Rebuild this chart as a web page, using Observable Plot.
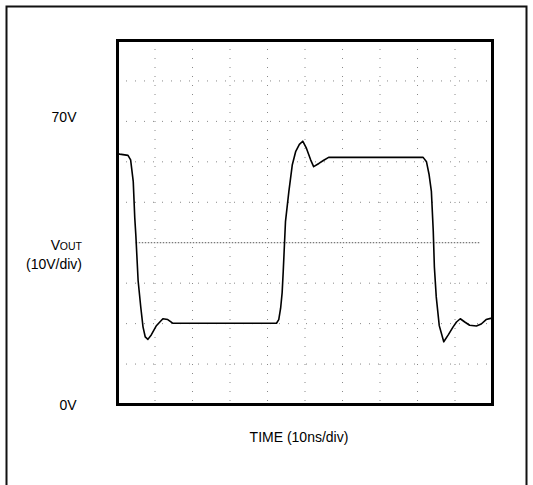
<!DOCTYPE html>
<html>
<head>
<meta charset="utf-8">
<script src="https://cdn.jsdelivr.net/npm/d3@7"></script>
<script src="https://cdn.jsdelivr.net/npm/@observablehq/plot@0.6"></script>
<style>
  html, body { margin: 0; padding: 0; background: #fff; }
  #chart svg { display: block; }
</style>
</head>
<body>
<div id="chart"></div>
<script>
// Time axis (ns) and output voltage (V)
const timeNs = [0, 0.6, 2.8, 3.5, 4.2, 4.6, 4.9, 5.5, 6.2, 6.8, 7.4, 8.1, 9.0, 10.3, 12.1, 13.4, 14.7,
  42.4, 43.0, 43.5, 43.9, 44.2, 44.8, 45.7, 46.6, 47.5, 48.5, 49.4, 50.4, 51.5, 52.3, 53.7, 55.0, 56.3,
  81.5, 82.4, 83.1, 83.7, 84.2, 84.5, 85.0, 85.8, 87.0, 88.2, 89.5, 90.4, 91.4, 92.6, 93.9, 95.7, 97.0, 98.3, 99.5];
const vout = [62.0, 61.9, 61.6, 60.5, 55.1, 46.2, 41.7, 30.6, 24.1, 19.2, 16.7, 16.1, 17.2, 19.4, 21.2, 21.0, 20.1,
  20.1, 21.0, 23.8, 27.6, 33.0, 45.3, 52.7, 59.2, 62.5, 64.3, 65.1, 63.3, 60.5, 58.8, 59.6, 60.4, 61.1,
  61.1, 60.0, 56.8, 52.7, 42.9, 34.0, 26.6, 19.5, 15.5, 17.2, 19.2, 20.4, 21.2, 20.4, 19.6, 19.4, 19.9, 21.0, 21.3];

// Scope divisions
const xDivs = [10, 20, 30, 40, 50, 60, 70, 80, 90];
const yDivs = [10, 20, 30, 50, 60, 70, 80];
const yCenter = [40];

// Text labels
const yTopLabel = [{v: 70, text: "70V"}];
const yBottomLabel = [{v: 0, text: "0V"}];
const voutLabel = [{v: 40}];
const xLabel = "TIME (10ns/div)";

const trace = timeNs.map((t, i) => ({t, v: vout[i]}));
const font = "'Liberation Sans', Arial, Helvetica, sans-serif";

const chart = Plot.plot({
  width: 533,
  height: 485,
  marginLeft: 117,
  marginRight: 41,
  marginTop: 40,
  marginBottom: 81,
  style: {fontFamily: font, background: "#fff", overflow: "hidden"},
  x: {domain: [0, 100], axis: null},
  y: {domain: [0, 90], axis: null},
  marks: [
    // outer box
    Plot.frame({stroke: "#111", strokeWidth: 2, insetLeft: -111, insetTop: -34, insetRight: -34, insetBottom: -90}),
    // grid
    Plot.ruleX(xDivs, {stroke: "#888", strokeWidth: 1, strokeDasharray: "1,8"}),
    Plot.ruleY(yDivs, {stroke: "#888", strokeWidth: 1, strokeDasharray: "1,8"}),
    Plot.ruleY(yCenter, {x1: 5, x2: 97, stroke: "#555", strokeWidth: 1, strokeDasharray: "1.5,1.5"}),
    // waveform
    Plot.line(trace, {x: "t", y: "v", stroke: "#000", strokeWidth: 1.6, curve: "linear"}),
    // scope frame
    Plot.frame({stroke: "#000", strokeWidth: 3}),
    // labels
    Plot.text(yTopLabel, {y: "v", text: "text", frameAnchor: "left", textAnchor: "end", lineAnchor: "middle", dx: -41, dy: -4, fontSize: 14, fill: "#000"}),
    Plot.text(yBottomLabel, {y: "v", text: "text", frameAnchor: "left", textAnchor: "end", lineAnchor: "middle", dx: -41, dy: 1, fontSize: 14, fill: "#000"}),
    Plot.text(voutLabel, {y: "v", text: () => "V", frameAnchor: "left", textAnchor: "end", lineAnchor: "middle", dx: -57.5, dy: 2.5, fontSize: 14, fill: "#000"}),
    Plot.text(voutLabel, {y: "v", text: () => "OUT", frameAnchor: "left", textAnchor: "end", lineAnchor: "middle", dx: -35.5, dy: 3.8, fontSize: 10.5, fill: "#000"}),
    Plot.text(voutLabel, {y: "v", text: () => "(10V/div)", frameAnchor: "left", textAnchor: "end", lineAnchor: "middle", dx: -35.5, dy: 21.5, fontSize: 14, fill: "#000"}),
    Plot.text([xLabel], {text: d => d, frameAnchor: "bottom", textAnchor: "middle", lineAnchor: "middle", dx: -6, dy: 33.5, fontSize: 14, fill: "#000"})
  ]
});
document.getElementById("chart").appendChild(chart);
</script>
</body>
</html>
